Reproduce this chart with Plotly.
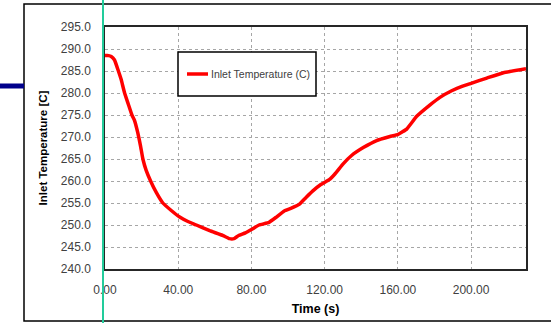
import plotly.graph_objects as go

# Inlet temperature history
time_s = [0, 2.0, 3.4, 5.2, 7.0, 8.8, 10.7, 12.7, 14.7, 16.1, 17.9, 19.4,
          20.7, 22.5, 24.9, 28.0, 31.6, 36.2, 40.8, 45.3, 49.9, 57.2, 64.5,
          68.0, 70.5, 73.0, 76.7, 80.5, 84.2, 89.6, 93.3, 97.9, 101.5, 106.1,
          109.7, 113.4, 117.9, 122.5, 125.6, 130.1, 134.7, 141.1, 148.4,
          155.7, 160.2, 164.8, 170.3, 177.6, 183.0, 189.4, 195.0, 200.0,
          208.6, 217.7, 230.0]
inlet_temp = [288.5, 288.5, 288.3, 287.5, 285.4, 283.1, 280.0, 277.5, 275.0,
              273.8, 271.0, 268.0, 265.0, 262.4, 260.0, 257.4, 255.0, 253.3,
              251.8, 250.8, 250.0, 248.7, 247.6, 246.9, 246.9, 247.6, 248.2,
              249.1, 250.0, 250.6, 251.7, 253.2, 253.8, 254.7, 256.2, 257.7,
              259.2, 260.3, 261.6, 263.9, 265.8, 267.6, 269.2, 270.1, 270.6,
              271.8, 274.7, 277.3, 279.0, 280.5, 281.5, 282.2, 283.4, 284.6,
              285.5]

x_ticks = [0, 40, 80, 120, 160, 200]
y_ticks = [240, 245, 250, 255, 260, 265, 270, 275, 280, 285, 290, 295]
series_name = "Inlet Temperature (C)"

W, H = 551, 323
L, R, T, B = 105, 25, 27, 54
PW, PH = W - L - R, H - T - B


def px(x):
    return (x - L) / PW


def py(y):
    return (H - B - y) / PH


FONT = "Liberation Sans"
TXT = "#404040"

fig = go.Figure()
fig.add_trace(go.Scatter(
    x=time_s, y=inlet_temp, mode="lines", name=series_name,
    line=dict(color="#ff0000", width=3.5, shape="spline", smoothing=0.3),
    showlegend=False, hoverinfo="skip"))

axis_common = dict(
    showline=True, linecolor="#262626", linewidth=1.5, mirror=True,
    showgrid=True, gridcolor="#a6a6a6", griddash="dot", gridwidth=1,
    zeroline=False, ticks="", tickfont=dict(family=FONT, size=12, color=TXT),
)

fig.update_xaxes(range=[0, 230], tickvals=x_ticks, tickformat=".2f",
                 ticklabelstandoff=9,
                 title=dict(text="<b>Time (s)</b>", standoff=8,
                            font=dict(family=FONT, size=12.5, color="#000000")),
                 **axis_common)
fig.update_yaxes(range=[240, 295], tickvals=y_ticks, tickformat=".1f",
                 ticklabelstandoff=10,
                 title=dict(text="<b>Inlet Temperature [C]</b>", standoff=11,
                            font=dict(family=FONT, size=11.5, color="#000000")),
                 **axis_common)

shapes = []
# outer chart border (open on the right)
shapes.append(dict(type="rect", xref="paper", yref="paper",
                   x0=px(24), x1=px(570), y0=py(321), y1=py(4),
                   line=dict(color="#000000", width=1.5), layer="below"))
# navy connector on the left
shapes.append(dict(type="line", xref="paper", yref="paper",
                   x0=px(0), x1=px(24), y0=py(86), y1=py(86),
                   line=dict(color="#00008b", width=5)))
# teal guide line
shapes.append(dict(type="line", xref="paper", yref="paper",
                   x0=px(103), x1=px(103), y0=py(0), y1=py(H),
                   line=dict(color="#22cc9b", width=2)))
# legend box
shapes.append(dict(type="rect", xref="paper", yref="paper",
                   x0=px(178), x1=px(316), y0=py(96), y1=py(52),
                   fillcolor="#ffffff", line=dict(color="#000000", width=1.5)))
shapes.append(dict(type="line", xref="paper", yref="paper",
                   x0=px(187), x1=px(208), y0=py(74), y1=py(74),
                   line=dict(color="#ff0000", width=3.5)))

fig.update_layout(
    width=W, height=H, margin=dict(l=L, r=R, t=T, b=B, autoexpand=False),
    paper_bgcolor="#ffffff", plot_bgcolor="#ffffff",
    shapes=shapes,
    annotations=[dict(xref="paper", yref="paper", x=px(209), y=py(74),
                      xanchor="left", yanchor="middle", showarrow=False,
                      text=series_name,
                      font=dict(family=FONT, size=10.5, color=TXT))],
    showlegend=False,
)

fig.write_html("out.html")
